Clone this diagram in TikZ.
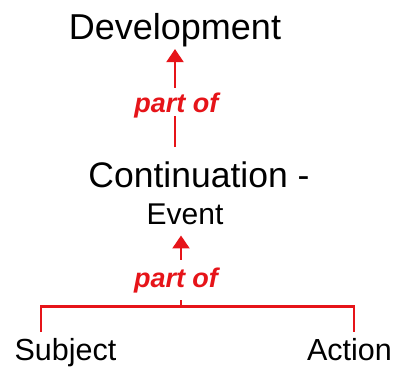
\documentclass[tikz,border=0pt]{standalone}
\usepackage{fontspec}
\setmainfont{Liberation Sans}
\usetikzlibrary{arrows.meta}
\definecolor{relred}{RGB}{230,20,25}
\tikzset{
  term/.style={inner sep=0pt, anchor=base, text=black},
  link/.style={draw=relred, line width=2.2bp},
  arr/.style={link, -{Triangle[width=17bp,length=13bp]}},
  rel/.style={anchor=base, fill=white, inner xsep=1bp, inner ysep=4bp, text=relred,
    font=\fontsize{27bp}{30bp}\selectfont\bfseries\itshape}
}
\begin{document}
\begin{tikzpicture}[x=1bp, y=-1bp]
  \useasboundingbox (0,0) rectangle (397,370);

  % concepts
  \node[term, font=\fontsize{36bp}{40bp}\selectfont] (dev) at (175,39) {Development};
  \node[term, font=\fontsize{35.5bp}{40bp}\selectfont] (cont) at (199,187) {Continuation -};
  \node[term, font=\fontsize{30bp}{34bp}\selectfont] (ev) at (185,224) {Event};
  \node[term, font=\fontsize{30.5bp}{34bp}\selectfont] (subj) at (65.5,360) {Subject};
  \node[term, font=\fontsize{30.5bp}{34bp}\selectfont] (act) at (349.5,360) {Action};

  % branch points of the lower relation
  \coordinate (j) at (181,306.5);
  \coordinate (bl) at (41,306.5);
  \coordinate (br) at (354,306.5);

  % relations
  \draw[arr, shorten <=14bp, shorten >=2.4bp] (cont.north -| dev.south) -- (dev.south);
  \draw[arr, shorten >=11bp] (j) -- (j |- ev.south);
  \draw[link, shorten <=5.5bp, shorten >=5.5bp]
    (subj.north -| bl) -- (bl) -- (br) -- (act.north -| br);

  % relation labels
  \node[rel, text depth=0pt] (r1) at (176.3,112) {part of};
  \node[rel, inner ysep=7bp] (r2) at (176,287) {part of};
\end{tikzpicture}
\end{document}
